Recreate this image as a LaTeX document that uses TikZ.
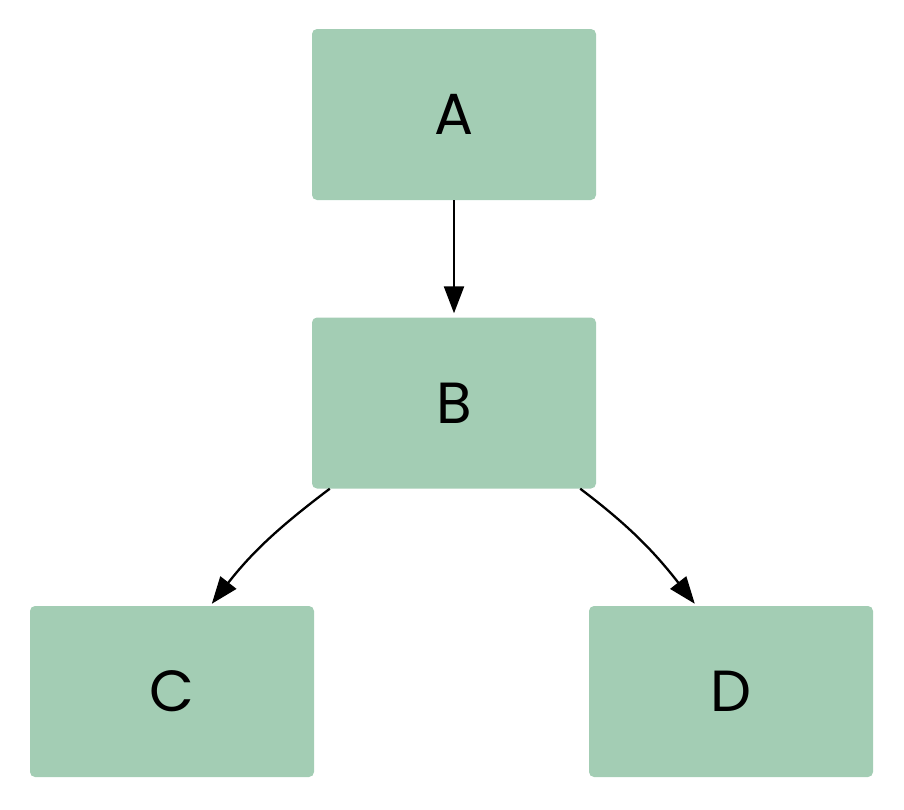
\documentclass[tikz,border=0pt]{standalone}
\usepackage{fontspec}
\setmainfont{Poppins}
\usetikzlibrary{arrows.meta}
\definecolor{boxgreen}{HTML}{A3CDB4}
\tikzset{
  box/.style={rectangle, rounded corners=5pt, fill=boxgreen, draw=none,
    minimum width=284pt, minimum height=171pt, inner sep=0pt,
    font=\fontsize{58}{62}\selectfont},
  conn/.style={line width=2.3pt, -{Triangle[length=27pt,width=20pt]}}
}
\begin{document}
\begin{tikzpicture}[x=1pt,y=-1pt]
\useasboundingbox (0,0) rectangle (904,809);
\node[box] (A) at (454,114.5) {A};
\node[box] (B) at (454,403) {B};
\node[box] (C) at (172,691.5) {C};
\node[box] (D) at (731,691.5) {D};
\draw[conn] (A.south) -- ([yshift=4pt]B.north);
\draw[conn] ([xshift=18pt]B.south west) to[out=217,in=52] ([xshift=182pt,yshift=2pt]C.north west);
\draw[conn] ([xshift=-16pt]B.south east) to[out=-37,in=128] ([xshift=106pt,yshift=2pt]D.north west);
\end{tikzpicture}
\end{document}
